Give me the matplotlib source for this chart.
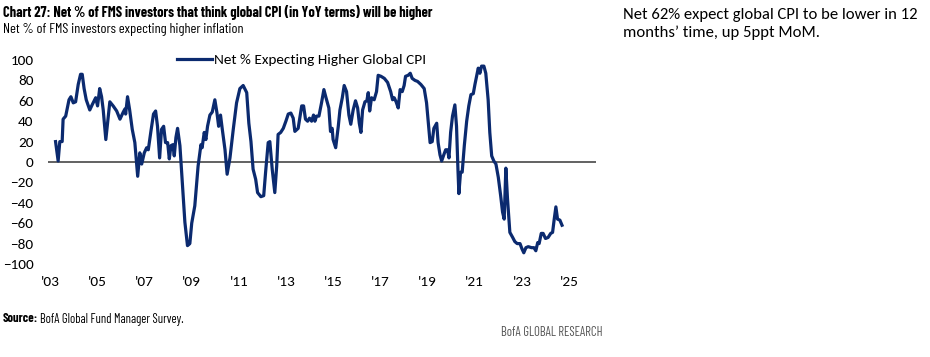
import matplotlib
matplotlib.use("Agg")
import matplotlib.pyplot as plt

# ---- data (decimal year, net %) ----
dates = [
    2003.24, 2003.35, 2003.42, 2003.52, 2003.56, 2003.67, 2003.81, 2003.89, 2003.99,
    2004.09, 2004.20, 2004.30, 2004.37, 2004.45, 2004.54, 2004.69, 2004.79, 2004.94,
    2005.02, 2005.11, 2005.19, 2005.26, 2005.37, 2005.54, 2005.68, 2005.83, 2005.97,
    2006.11, 2006.18, 2006.21, 2006.29, 2006.38, 2006.49, 2006.60, 2006.72, 2006.81,
    2006.89, 2007.00, 2007.10, 2007.17, 2007.28, 2007.39, 2007.48, 2007.56, 2007.65,
    2007.73, 2007.82, 2007.90, 2007.99, 2008.06, 2008.13, 2008.21, 2008.27, 2008.34,
    2008.41, 2008.51, 2008.61, 2008.72, 2008.83, 2008.93, 2009.01, 2009.14, 2009.22,
    2009.28, 2009.40, 2009.45, 2009.54, 2009.61, 2009.68, 2009.78, 2009.88, 2009.99,
    2010.08, 2010.15, 2010.23, 2010.30, 2010.42, 2010.51, 2010.63, 2010.77, 2010.91,
    2011.05, 2011.19, 2011.34, 2011.43, 2011.52, 2011.61, 2011.72, 2011.80, 2011.94,
    2012.06, 2012.14, 2012.25, 2012.32, 2012.42, 2012.53, 2012.61, 2012.67, 2012.78,
    2012.89, 2013.00, 2013.10, 2013.21, 2013.31, 2013.38, 2013.52, 2013.67, 2013.75,
    2013.83, 2013.92, 2014.00, 2014.09, 2014.17, 2014.23, 2014.30, 2014.40, 2014.51,
    2014.61, 2014.70, 2014.82, 2014.89, 2014.96, 2015.00, 2015.11, 2015.22, 2015.29,
    2015.39, 2015.47, 2015.57, 2015.67, 2015.75, 2015.85, 2015.95, 2016.04, 2016.11,
    2016.18, 2016.25, 2016.35, 2016.43, 2016.49, 2016.55, 2016.63, 2016.74, 2016.84,
    2016.91, 2017.03, 2017.17, 2017.31, 2017.44, 2017.52, 2017.59, 2017.67, 2017.76,
    2017.84, 2017.93, 2018.01, 2018.07, 2018.18, 2018.27, 2018.35, 2018.47, 2018.58,
    2018.72, 2018.86, 2018.96, 2019.03, 2019.11, 2019.20, 2019.27, 2019.39, 2019.45,
    2019.53, 2019.60, 2019.69, 2019.77, 2019.85, 2019.91, 2019.98, 2020.06, 2020.16,
    2020.23, 2020.29, 2020.33, 2020.40, 2020.47, 2020.56, 2020.66, 2020.75, 2020.84,
    2020.94, 2021.01, 2021.08, 2021.15, 2021.22, 2021.29, 2021.39, 2021.47, 2021.57,
    2021.64, 2021.72, 2021.81, 2021.90, 2022.00, 2022.10, 2022.18, 2022.25, 2022.32,
    2022.39, 2022.49, 2022.61, 2022.70, 2022.80, 2022.92, 2023.00, 2023.08, 2023.17,
    2023.27, 2023.41, 2023.51, 2023.59, 2023.67, 2023.73, 2023.82, 2023.90, 2024.00,
    2024.11, 2024.22, 2024.30, 2024.37, 2024.44, 2024.51, 2024.61, 2024.70,
]
net_pct = [
    20, 1, 20, 20, 42, 45, 61, 64, 58,
    59, 76, 86, 86, 72, 61, 51, 56, 63,
    55, 72, 64, 51, 22, 59, 55, 50, 42,
    49, 52, 47, 64, 51, 32, 19, -14, 9,
    -2, 9, 14, 12, 30, 47, 50, 35, 4,
    32, 35, 19, 19, 3, 16, 17, 6, 24,
    33, 16, -20, -59, -82, -80, -60, -43, -20,
    -4, 17, 14, 29, 22, 35, 46, 49, 61,
    48, 35, 46, 33, 12, -12, 4, 32, 58,
    72, 75, 68, 38, 20, -7, -17, -30, -34,
    -33, -10, 19, 20, -7, -30, -4, 27, 29,
    33, 40, 47, 48, 43, 30, 33, 55, 55,
    42, 40, 43, 40, 46, 40, 45, 45, 58,
    71, 63, 53, 30, 33, 22, 14, 35, 51,
    63, 75, 69, 46, 37, 51, 60, 53, 38,
    29, 51, 59, 60, 68, 50, 63, 61, 69,
    85, 84, 82, 78, 69, 61, 63, 59, 53,
    71, 69, 75, 84, 85, 87, 82, 80, 79,
    76, 72, 58, 40, 19, 20, 33, 38, 19,
    7, 1, 7, 12, 12, 4, 29, 45, 56,
    35, -7, -31, -10, -10, 16, 40, 55, 66,
    67, 76, 84, 92, 87, 94, 94, 87, 61,
    29, 6, 1, -2, -15, -33, -49, -56, -6,
    -36, -69, -74, -78, -80, -80, -85, -89, -84,
    -83, -84, -84, -87, -79, -80, -70, -70, -75,
    -74, -70, -69, -56, -44, -56, -57, -62,
]
tick_years = list(range(2003, 2026, 2))
tick_labels = ["'%02d" % (y % 100) for y in tick_years]
y_ticks = list(range(-100, 101, 20))

series_name = "Net % Expecting Higher Global CPI"
title = "Chart 27: Net % of FMS investors that think global CPI (in YoY terms) will be higher"
subtitle = "Net % of FMS investors expecting higher inflation"
note_lines = ["Net 62% expect global CPI to be lower in 12", "months\u2019 time, up 5ppt MoM."]
source_label = "Source:"
source_text = "BofA Global Fund Manager Survey."
brand = "BofA GLOBAL RESEARCH"

NAVY = "#0b2a6f"
COND = ["Barlow Condensed", "Roboto Condensed", "DejaVu Sans"]
BODY = ["Carlito", "DejaVu Sans"]

W, H = 930, 357
fig = plt.figure(figsize=(W / 100, H / 100), dpi=100)
ax = fig.add_axes([48 / W, 1 - 264 / H, (596 - 48) / W, (264 - 60) / H])

ax.plot(dates, net_pct, color=NAVY, lw=2.3, solid_joinstyle="round",
        label=series_name, zorder=3)
ax.axhline(0, color="#555555", lw=1.3, zorder=2)

ax.set_xlim(2002.92, 2026.14)
ax.set_ylim(-100, 100)
ax.set_xticks(tick_years)
ax.set_xticklabels(tick_labels)
ax.set_yticks(y_ticks)
for s in ax.spines.values():
    s.set_visible(False)
ax.tick_params(axis="both", length=0, labelsize=11, colors="black")
ax.tick_params(axis="y", pad=10.5)
ax.tick_params(axis="x", pad=8.5)
for lab in ax.get_xticklabels() + ax.get_yticklabels():
    lab.set_family(BODY)

ax.legend(loc="center left", bbox_to_anchor=(129 / 548, 1.0), frameon=False,
          handlelength=2.3, handletextpad=0.15, borderaxespad=0, borderpad=0,
          prop={"family": BODY, "size": 11})


def px(x, y):
    return x / W, 1 - y / H


def fit(t, target_w):
    """Scale a text's font size so its rendered width matches target pixels."""
    r = fig.canvas.get_renderer()
    w = t.get_window_extent(r).width
    t.set_fontsize(t.get_fontsize() * target_w / w)


fig.canvas.draw()
t1 = fig.text(*px(3, 13), title, ha="left", va="center", fontsize=11,
              fontweight="bold", family=COND)
fit(t1, 432)
t2 = fig.text(*px(3, 30), subtitle, ha="left", va="center", fontsize=11,
              family=COND)
fit(t2, 239)
n1 = fig.text(*px(623, 15), note_lines[0], ha="left", va="center", fontsize=11,
              family=BODY)
fit(n1, 294)
n2 = fig.text(*px(623, 33), note_lines[1], ha="left", va="center",
              fontsize=n1.get_fontsize(), family=BODY)
s1 = fig.text(*px(3, 319), source_label, ha="left", va="center", fontsize=7.5,
              fontweight="bold", family=COND)
fig.canvas.draw()
r = fig.canvas.get_renderer()
s2 = fig.text((s1.get_window_extent(r).x1 + 2) / W, 1 - 319 / H, source_text,
              ha="left", va="center", fontsize=7.5, family=COND)
fig.canvas.draw()
scale = 182 / (s2.get_window_extent(r).x1 - 3)
s1.set_fontsize(7.5 * scale)
fig.canvas.draw()
s2.set_position(((s1.get_window_extent(r).x1 + 2) / W, 1 - 319 / H))
s2.set_fontsize(7.5 * scale)
b = fig.text(*px(501, 333), brand, ha="left", va="center", fontsize=7.5,
             color="#555555", family=COND)
fit(b, 102)

fig.savefig("out.png", dpi=100)
